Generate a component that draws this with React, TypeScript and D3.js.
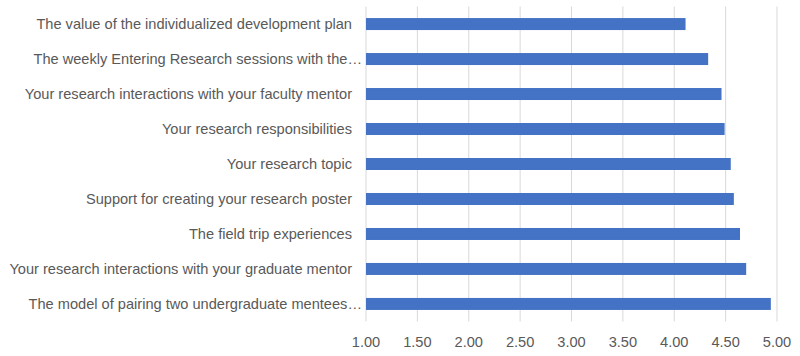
import React from "react";
import * as d3 from "d3";

const categories = [
  "The value of the individualized development plan",
  "The weekly Entering Research sessions with the\u2026",
  "Your research interactions with your faculty mentor",
  "Your research responsibilities",
  "Your research topic",
  "Support for creating your research poster",
  "The field trip experiences",
  "Your research interactions with your graduate mentor",
  "The model of pairing two undergraduate mentees\u2026",
];
const values = [4.11, 4.33, 4.46, 4.49, 4.55, 4.58, 4.64, 4.7, 4.94];
const tickValues = [1, 1.5, 2, 2.5, 3, 3.5, 4, 4.5, 5];

export default function App() {
  const width = 800;
  const height = 356;
  const x = d3.scaleLinear().domain([1, 5]).range([366, 777]);
  const y = d3.scaleBand().domain(categories).range([6.5, 321.5]).paddingInner(0.657).paddingOuter(0.33);
  const font = "'Liberation Sans', Arial, sans-serif";
  return (
    <svg width={width} height={height} style={{ position: "absolute", left: 0, top: 0 }}>
      <rect width={width} height={height} fill="#fff" />
      {tickValues.map((t) => (
        <line key={t} x1={x(t)} x2={x(t)} y1={6.5} y2={321.5} stroke="#d9d9d9" strokeWidth={1} />
      ))}
      {categories.map((c, i) => (
        <rect key={c} x={x(1)} y={y(c)!} width={x(values[i]) - x(1)} height={y.bandwidth()} fill="#4472c4" />
      ))}
      {categories.map((c) => (
        <text
          key={c}
          x={c.endsWith("\u2026") ? 362 : 352}
          y={y(c)! + y.bandwidth() / 2}
          dy="0.35em"
          textAnchor="end"
          fontFamily={font}
          fontSize={14.6}
          fill="#595959"
        >
          {c}
        </text>
      ))}
      {tickValues.map((t) => (
        <text key={t} x={x(t)} y={342} dy="0.35em" textAnchor="middle" fontFamily={font} fontSize={14.6} fill="#595959">
          {d3.format(".2f")(t)}
        </text>
      ))}
    </svg>
  );
}
